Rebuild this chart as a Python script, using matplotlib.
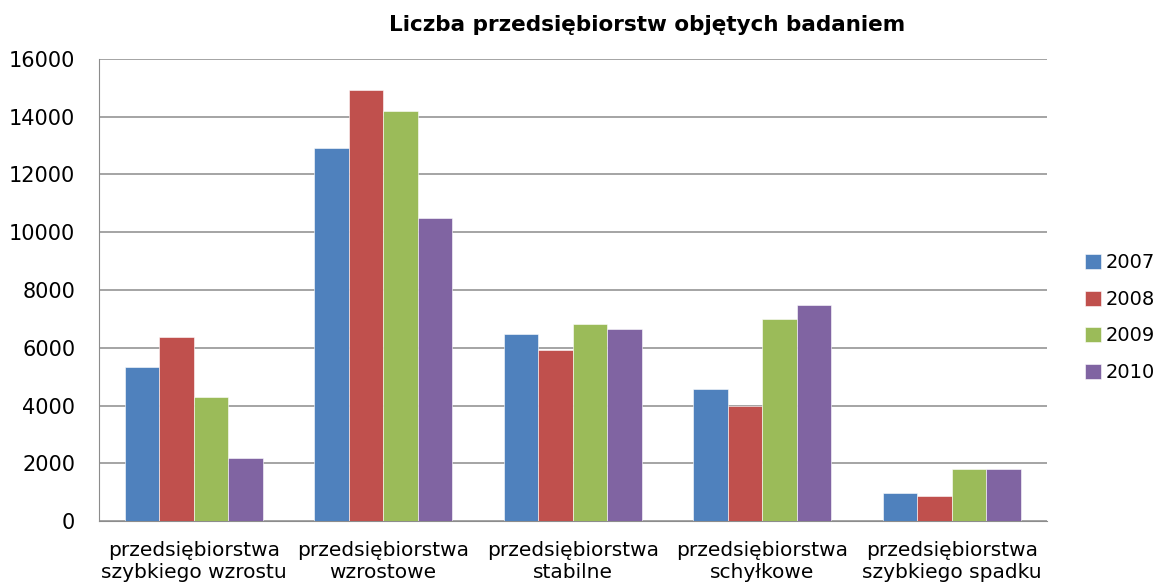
import numpy as np
import matplotlib
matplotlib.use("Agg")
import matplotlib.pyplot as plt

# dane
kategorie = [
    "przedsiębiorstwa\nszybkiego wzrostu",
    "przedsiębiorstwa\nwzrostowe",
    "przedsiębiorstwa\nstabilne",
    "przedsiębiorstwa\nschyłkowe",
    "przedsiębiorstwa\nszybkiego spadku",
]
lata = ["2007", "2008", "2009", "2010"]
v2007 = [5350, 12900, 6490, 4560, 960]
v2008 = [6380, 14940, 5920, 3990, 860]
v2009 = [4310, 14180, 6820, 7000, 1790]
v2010 = [2170, 10480, 6650, 7480, 1790]
kolory = ["#4F81BD", "#C0504D", "#9BBB59", "#8064A2"]

serie = [v2007, v2008, v2009, v2010]

fig = plt.figure(figsize=(11.63, 5.83), dpi=100)
ax = fig.add_axes([0.085, 0.106, 0.815, 0.793])

x = np.arange(len(kategorie))
w = 0.182
for i, (vals, rok, kol) in enumerate(zip(serie, lata, kolory)):
    ax.bar(x + (i - 1.5) * w, vals, width=w, color=kol, label=rok,
           edgecolor="white", linewidth=0.4, zorder=3)

ax.set_xlim(-0.5, len(kategorie) - 0.5)
ax.set_ylim(0, 16000)
ax.set_yticks(range(0, 16001, 2000))
ax.yaxis.grid(True, color="#8c8c8c", linewidth=1.1, zorder=0)
ax.set_axisbelow(True)

for s in ["top", "right"]:
    ax.spines[s].set_visible(False)
ax.spines["left"].set_color("#8c8c8c")
ax.spines["bottom"].set_color("#8c8c8c")
ax.tick_params(axis="both", length=0)
ax.tick_params(axis="y", labelsize=15, pad=17)
ax.set_xticks(x)
ax.set_xticklabels(kategorie, fontsize=14.5, linespacing=1.2)
ax.tick_params(axis="x", pad=14)

fig.suptitle("Liczba przedsiębiorstw objętych badaniem", x=0.556, y=0.975,
             fontsize=15.5, fontweight="bold")

ax.legend(loc="center left", bbox_to_anchor=(0.933, 0.455), bbox_transform=fig.transFigure,
          frameon=False, fontsize=14, handlelength=0.8, handleheight=0.8,
          handletextpad=0.25, labelspacing=0.9, borderpad=0, borderaxespad=0)

fig.savefig("out.png", dpi=100)
